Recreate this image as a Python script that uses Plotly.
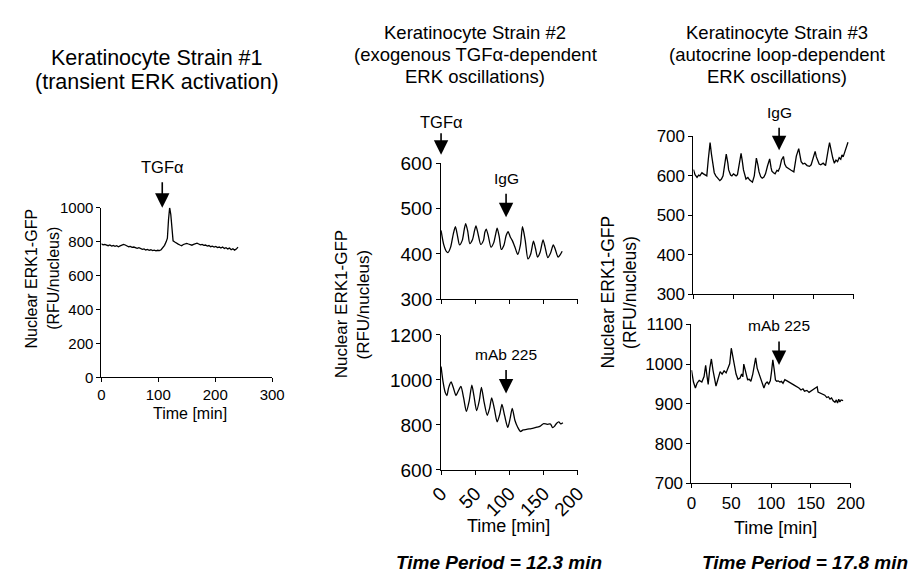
import plotly.graph_objects as go

# ---------------- data ----------------
# Strain 1 (transient ERK activation)
t1 = [0, 3, 6, 9, 12, 15, 18, 21, 24, 27, 30, 33, 36, 39, 42, 45, 48, 51, 54, 57, 60,
      63, 66, 69, 72, 75, 78, 81, 84, 87, 90, 93, 96, 99, 102, 105, 108, 111, 114, 116,
      118, 120, 122, 124, 126, 129, 132, 135, 138, 141, 144, 147, 150, 153, 156, 159,
      162, 165, 168, 171, 174, 177, 180, 183, 186, 189, 192, 195, 198, 201, 204, 207,
      210, 213, 216, 219, 222, 225, 228, 231, 234, 237, 240]
v1 = [788, 781, 783, 778, 776, 780, 774, 777, 772, 776, 770, 775, 778, 784, 780, 776,
      770, 772, 766, 768, 762, 760, 764, 757, 754, 757, 751, 754, 749, 752, 747, 750,
      746, 749, 747, 752, 762, 778, 800, 820, 930, 1000, 960, 850, 805, 798, 790, 785,
      780, 776, 783, 786, 790, 786, 784, 779, 784, 788, 791, 786, 781, 784, 778, 780,
      774, 777, 770, 773, 768, 772, 765, 768, 762, 768, 760, 764, 757, 762, 752, 758,
      750, 756, 768]

# Strain 2, IgG control
t2a = [0, 4, 8, 10, 14, 18, 21, 24, 27, 31, 34, 36, 39, 42, 46, 49, 51, 54, 58, 62, 64,
       66, 69, 73, 77, 80, 82, 85, 88, 92, 95, 98, 101, 104, 108, 112, 116, 119, 123,
       127, 131, 135, 138, 141, 145, 149, 152, 156, 160, 164, 167, 171, 174, 177]
v2a = [452, 420, 405, 403, 415, 445, 460, 440, 420, 430, 455, 467, 450, 423, 432, 452,
       462, 445, 421, 430, 448, 455, 440, 415, 425, 445, 457, 438, 410, 420, 440, 449,
       438, 430, 415, 399, 420, 460, 430, 389, 400, 428, 412, 393, 405, 431, 415, 392,
       402, 420, 410, 393, 398, 406]

# Strain 2, mAb 225
t2b = [0, 3, 6, 8.5, 11, 14.7, 18, 21.8, 25, 29, 33, 37, 41, 45, 48, 52, 56, 59, 63,
       67.5, 71, 74, 78, 82, 86, 89, 93, 97.5, 101, 104, 108, 112, 116, 120, 125, 130,
       135, 140, 145, 150, 155, 160, 163, 166, 169, 172, 175, 178]
v2b = [1060, 990, 945, 931, 965, 991, 965, 931, 950, 971, 920, 860, 905, 977, 930, 864,
       910, 967, 900, 843, 875, 920, 870, 814, 850, 891, 840, 789, 830, 874, 820, 790,
       771, 778, 780, 783, 786, 790, 795, 806, 803, 804, 788, 795, 808, 814, 805, 810]

# Strain 3, IgG control
t3a = [0, 2, 4.5, 6.5, 8, 10.6, 12.5, 14, 16.7, 18.5, 20.8, 22.5, 24, 26, 28, 30, 33,
       35, 37, 39, 41, 43, 44, 46.4, 48, 50, 53.3, 55, 57, 59.5, 61, 62.5, 65.6, 68,
       70, 73.7, 76, 78.6, 80.5, 82, 84, 85.9, 88, 90, 92.5, 95.2, 97, 98, 100, 102,
       104.3, 106, 108, 110, 112.4, 114, 116, 119.7, 122, 125.4, 127, 128.5, 131.5,
       133, 134.5, 136.8, 139, 142, 145, 147, 149, 150.5, 152, 153.5, 155, 157, 159,
       162, 165, 167, 168.5, 170, 172, 174, 176, 178, 180, 182, 184, 185.5, 187, 189,
       191, 193]
v3a = [616, 603, 596, 602, 600, 608, 605, 603, 600, 640, 684, 655, 630, 608, 600, 595,
       588, 592, 600, 628, 655, 632, 615, 602, 600, 605, 600, 603, 625, 657, 638, 615,
       592, 596, 590, 584, 600, 645, 628, 610, 598, 594, 597, 605, 625, 643, 620, 612,
       608, 605, 614, 612, 622, 640, 649, 630, 622, 616, 614, 610, 628, 650, 669, 648,
       636, 630, 632, 626, 624, 628, 640, 650, 662, 648, 640, 630, 628, 632, 626, 645,
       668, 684, 660, 645, 632, 640, 636, 646, 642, 653, 648, 660, 672, 685, 695]

# Strain 3, mAb 225
t3b = [0, 2.5, 4.9, 7, 9.7, 13, 15.8, 17.8, 19.5, 21, 23, 25, 27, 28.5, 30.8, 33, 36,
       38.5, 41, 43.5, 46, 48, 50, 52, 54, 56, 58.4, 61, 63, 64.5, 65.7, 67.5, 70.5,
       72.5, 74.6, 77, 78.5, 80.6, 82.5, 84, 86.8, 89, 91, 93, 95, 97, 99, 100.5,
       102.2, 104, 105.5, 107, 109, 111, 113, 115, 117.3, 120, 122, 124.5, 127.4, 130,
       132, 135, 137.6, 140, 142, 145, 147.7, 150, 152, 155, 157.9, 159, 160, 162.5,
       165, 167.5, 170, 172, 174, 176, 178, 180.3, 182, 183.5, 185, 186.4, 188, 190.5]
v3b = [985, 955, 940, 952, 959, 955, 969, 997, 970, 949, 990, 1013, 985, 965, 945, 960,
       981, 975, 983, 978, 990, 1001, 1040, 1015, 990, 975, 962, 965, 975, 968, 1000,
       985, 961, 962, 957, 975, 995, 1016, 990, 980, 965, 950, 940, 951, 955, 950, 958,
       980, 1011, 985, 960, 957, 958, 955, 957, 952, 961, 958, 955, 953, 949, 946, 944,
       940, 935, 938, 932, 934, 929, 932, 934, 938, 943, 930, 929, 927, 925, 922, 916,
       918, 912, 915, 908, 904, 910, 902, 912, 905, 910, 908]

# treatment times (min) and arrow tip levels (RFU/nucleus)
tgf_1 = (107, 1000)
tgf_2 = (0, 619)
igg_2 = (95, 481)
mab_2 = (95, 940)
igg_3 = (107, 665)
mab_3 = (110, 998)

y_title = ["Nuclear ERK1-GFP", "(RFU/nucleus)"]
x_title = "Time [min]"
titles_1 = ["Keratinocyte Strain #1", "(transient ERK activation)"]
titles_2 = ["Keratinocyte Strain #2", "(exogenous TGF\u03b1-dependent", "ERK oscillations)"]
titles_3 = ["Keratinocyte Strain #3", "(autocrine loop-dependent", "ERK oscillations)"]
periods = ["Time Period = 12.3 min", "Time Period = 17.8 min"]

# ---------------- figure ----------------
W, H = 920, 588
FONT = "Liberation Sans, Arial, Helvetica, sans-serif"


def px_x(p):
    return p / W


def px_y(p):
    return 1 - p / H


fig = go.Figure()
line = dict(color="black", width=1.3)
sline = dict(color="black", width=1.3, shape="spline", smoothing=0.7)
fig.add_trace(go.Scatter(x=t1, y=v1, mode="lines", line=line, xaxis="x", yaxis="y"))
fig.add_trace(go.Scatter(x=t2a, y=v2a, mode="lines", line=sline, xaxis="x2", yaxis="y2"))
fig.add_trace(go.Scatter(x=t2b, y=v2b, mode="lines", line=sline, xaxis="x3", yaxis="y3"))
fig.add_trace(go.Scatter(x=t3a, y=v3a, mode="lines", line=line, xaxis="x4", yaxis="y4"))
fig.add_trace(go.Scatter(x=t3b, y=v3b, mode="lines", line=line, xaxis="x5", yaxis="y5"))


def ax_style(size, **kw):
    d = dict(showline=True, linecolor="black", linewidth=1, ticks="outside",
             ticklen=4, tickwidth=1, tickcolor="black", showgrid=False,
             zeroline=False, fixedrange=True,
             tickfont=dict(family=FONT, size=size, color="black"))
    d.update(kw)
    return d


# domains from pixel positions
doms = {
    1: ((91, 267), (205, 381)),
    2: ((441, 582), (159, 300)),
    3: ((441, 582), (337, 477)),
    4: ((701, 866), (131, 295)),
    5: ((699, 863), (326, 491)),
}


def dx(i):
    a, b = doms[i][0]
    return [px_x(a), px_x(b)]


def dy(i):
    a, b = doms[i][1]
    return [px_y(b), px_y(a)]


fig.update_layout(
    xaxis=ax_style(15, domain=dx(1), range=[0, 300], tickvals=[0, 100, 200, 300], anchor="y"),
    yaxis=ax_style(15, domain=dy(1), range=[0, 1000], tickvals=[0, 200, 400, 600, 800, 1000], anchor="x"),
    xaxis2=ax_style(19, domain=dx(2), range=[0, 200], tickvals=[0, 50, 100, 150, 200],
                    showticklabels=False, anchor="y2"),
    yaxis2=ax_style(19, domain=dy(2), range=[300, 600], tickvals=[300, 400, 500, 600], anchor="x2"),
    xaxis3=ax_style(19, domain=dx(3), range=[0, 200], tickvals=[0, 50, 100, 150, 200],
                    tickangle=-45, anchor="y3"),
    yaxis3=ax_style(19, domain=dy(3), range=[600, 1200], tickvals=[600, 800, 1000, 1200], anchor="x3"),
    xaxis4=ax_style(17, domain=dx(4), range=[0, 200], tickvals=[0, 50, 100, 150, 200],
                    showticklabels=False, anchor="y4"),
    yaxis4=ax_style(17, domain=dy(4), range=[300, 700], tickvals=[300, 400, 500, 600, 700], anchor="x4"),
    xaxis5=ax_style(17, domain=dx(5), range=[0, 200], tickvals=[0, 50, 100, 150, 200], anchor="y5"),
    yaxis5=ax_style(17, domain=dy(5), range=[700, 1100], tickvals=[700, 800, 900, 1000, 1100], anchor="x5"),
    width=W, height=H, margin=dict(l=0, r=0, t=0, b=0),
    paper_bgcolor="white", plot_bgcolor="white", showlegend=False,
    font=dict(family=FONT, color="black"),
)

ann = []


def text(s, x, y, size, angle=0, bold=False, italic=False):
    if bold:
        s = "<b>" + s + "</b>"
    if italic:
        s = "<i>" + s + "</i>"
    ann.append(dict(text=s, x=px_x(x), y=px_y(y), xref="paper", yref="paper",
                    showarrow=False, xanchor="center", yanchor="middle",
                    textangle=angle, font=dict(family=FONT, size=size, color="black")))


# titles
for s, yy in zip(titles_1, [50, 75]):
    text(s, 148, yy, 21.5)
for s, yy in zip(titles_2, [23, 46, 69]):
    text(s, 476, yy, 18.5)
for s, yy in zip(titles_3, [23, 46, 69]):
    text(s, 787, yy, 18.5)

# y titles
text(y_title[0], 19, 278, 16, angle=-90)
text(y_title[1], 41, 278, 16, angle=-90)
text(y_title[0], 338, 305, 17, angle=-90)
text(y_title[1], 361, 305, 17, angle=-90)
text(y_title[0], 613, 293, 17.5, angle=-90)
text(y_title[1], 635, 293, 17.5, angle=-90)

# x titles
text(x_title, 182, 418, 16)
text(x_title, 510, 535, 18)
text(x_title, 786, 537, 18)

# bottom period texts
text(periods[0], 501, 573, 19, bold=True, italic=True)
text(periods[1], 816, 573, 19, bold=True, italic=True)


def arrow(xref, yref, tip, length, label, size, gap=14):
    ann.append(dict(text="", x=tip[0], y=tip[1], xref=xref, yref=yref,
                    showarrow=True, ax=0, ay=-length, arrowhead=2, arrowsize=1.8,
                    arrowwidth=1.6, arrowcolor="black", standoff=0))
    ann.append(dict(text=label, x=tip[0], y=tip[1], xref=xref, yref=yref,
                    showarrow=False, yshift=length + gap, xanchor="center", yanchor="middle",
                    font=dict(family=FONT, size=size, color="black")))


arrow("x", "y", tgf_1, 27, "TGF\u03b1", 16.5)
arrow("x3", "y3", mab_2, 25, "mAb 225", 15.5)
arrow("x2", "y2", igg_2, 25, "IgG", 15.5)
arrow("x4", "y4", igg_3, 24, "IgG", 15.5)
arrow("x5", "y5", mab_3, 25, "mAb 225", 15.5)

# TGFα addition at t=0 in strain 2 sits above the top of the y2 range, so it is
# positioned on the axis domain (fraction of the plot height) instead of data units
y2_lo, y2_hi = 300, 600
tgf2_frac = (tgf_2[1] - y2_lo) / (y2_hi - y2_lo)
ann.append(dict(text="", x=tgf_2[0], y=tgf2_frac, xref="x2", yref="y2 domain",
                showarrow=True, ax=0, ay=-23, arrowhead=2, arrowsize=1.8,
                arrowwidth=1.6, arrowcolor="black", standoff=0))
ann.append(dict(text="TGF\u03b1", x=tgf_2[0], y=tgf2_frac, xref="x2", yref="y2 domain",
                showarrow=False, yshift=33, xanchor="center", yanchor="middle",
                font=dict(family=FONT, size=16.5, color="black")))

fig.update_layout(annotations=ann)
fig.write_html("out.html", config={"displayModeBar": False},
               post_script="document.body.style.margin='0px';")
